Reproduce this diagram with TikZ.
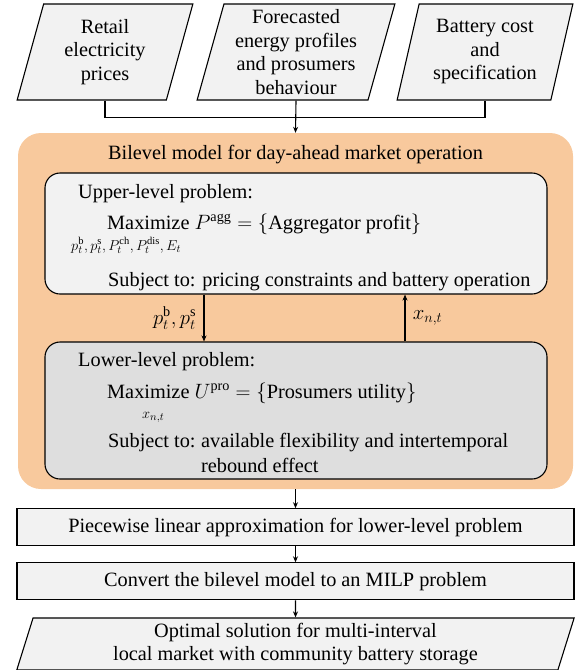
\documentclass[tikz,border=0pt]{standalone}
\usepackage{amsmath}
\usepackage{fontspec}
\setmainfont{Liberation Serif}
\usepackage{tikz}
\usetikzlibrary{positioning,arrows.meta,shapes.geometric}

\definecolor{boxgray}{RGB}{242,242,242}
\definecolor{lowgray}{RGB}{222,222,222}
\definecolor{bilevelorange}{RGB}{248,201,157}

\begin{document}
\begin{tikzpicture}[
  x=1pt,y=1pt,
  >=Stealth,
  every node/.style={font=\fontsize{20.3}{23.5}\selectfont},
  inbox/.style={trapezium,trapezium left angle=75,trapezium right angle=105,
                trapezium stretches=true,draw,line width=1.1pt,fill=boxgray,
                align=center,inner sep=0pt,minimum height=96pt,minimum width=176pt},
  stepbox/.style={draw,line width=1.1pt,fill=boxgray,inner sep=0pt,
                  minimum width=557pt,minimum height=37pt},
  level/.style={draw,line width=1.1pt,rounded corners=15pt,minimum width=502pt},
  txt/.style={anchor=base west,inner sep=0pt},
  small/.style={txt,font=\fontsize{15}{17}\selectfont},
  arr/.style={-{Stealth[length=6pt,width=5pt]},line width=1.1pt},
  wire/.style={line width=1.1pt},
]
\useasboundingbox (0,0) rectangle (579,-670);

% inputs
\node[inbox] (prices) at (105,-52) {Retail\\electricity\\prices};
\node[inbox,minimum width=198pt] (profiles) at (296,-52) {Forecasted\\energy profiles\\and prosumers\\behaviour};
\node[inbox] (battery) at (485,-52) {Battery cost\\and\\specification};

% bilevel model
\node[fill=bilevelorange,rounded corners=23pt,minimum width=555pt,minimum height=356pt] (model) at (295.5,-311) {};
\node[anchor=base,inner sep=0pt] (title) at (295.5,-159) {Bilevel model for day-ahead market operation};

\node[level,fill=boxgray,minimum height=121pt] (upper) at (296,-233.5) {};
\node[txt] (uptitle) at (78,-198) {Upper-level problem:};
\node[txt] (upobj) at (107,-229) {Maximize $P^{\text{agg}}=\{\text{Aggregator profit}\}$};
\node[small] (upvar) at (71,-250) {$p_t^{\text{b}},p_t^{\text{s}},P_t^{\text{ch}},P_t^{\text{dis}},E_t$};
\node[txt] (upcon) at (108,-286) {Subject to: pricing constraints and battery operation};

\node[level,fill=lowgray,minimum height=137pt] (lower) at (296,-410.5) {};
\node[txt] (lowtitle) at (78,-366) {Lower-level problem:};
\node[txt] (lowobj) at (107,-398) {Maximize $U^{\text{pro}}=\{\text{Prosumers utility}\}$};
\node[small] (lowvar) at (142,-418) {$x_{n,t}$};
\node[txt] (lowcon) at (108,-447) {Subject to:};
\node[txt,xshift=5.1pt] (lowflex) at (lowcon.base east) {available flexibility and intertemporal};
\node[txt] (lowreb) at ([yshift=-25pt]lowflex.base west) {rebound effect};

% solution steps
\node[stepbox,below=19pt of model] (pwl) {Piecewise linear approximation for lower-level problem};
\node[stepbox,below=16pt of pwl] (milp) {Convert the bilevel model to an MILP problem};
\node[inbox,minimum width=558pt,minimum height=52pt,below=17pt of milp] (result)
  {Optimal solution for multi-interval\\local market with community battery storage};

\draw[wire] (prices.south) |- ([yshift=-17pt]profiles.south) -| (battery.south);
\draw[arr] (profiles.south) -- (model.north);
\draw[arr] ([xshift=-92pt]upper.south) -- ([xshift=-92pt]lower.north)
  node[midway,left=4pt] {$p_t^{\text{b}},p_t^{\text{s}}$};
\draw[arr] ([xshift=109pt]lower.north) -- ([xshift=109pt]upper.south)
  node[midway,right=4pt] {$x_{n,t}$};
\draw[arr] (model) -- (pwl);
\draw[arr] (pwl) -- (milp);
\draw[arr] (milp) -- (result);
\end{tikzpicture}
\end{document}
